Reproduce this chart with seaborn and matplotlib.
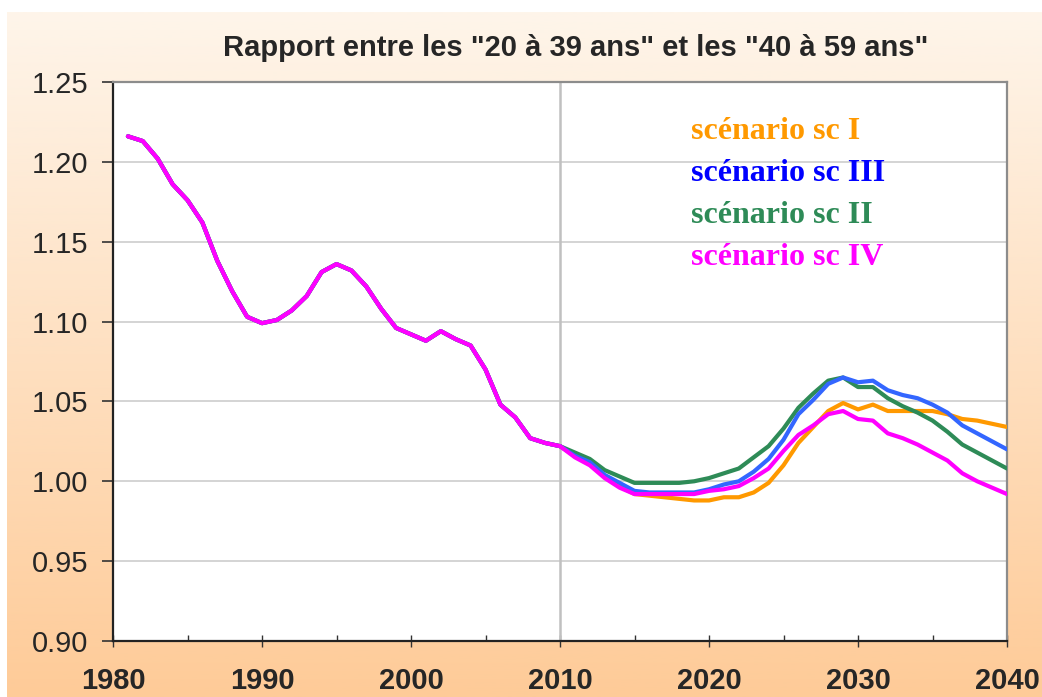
import numpy as np
import pandas as pd
import matplotlib
matplotlib.use("Agg")
import matplotlib.pyplot as plt
import seaborn as sns
from matplotlib.ticker import MultipleLocator

# ---------------- data ----------------
hist_years = list(range(1981, 2011))
hist_values = [1.216, 1.213, 1.202, 1.186, 1.176, 1.162, 1.138, 1.119, 1.103, 1.099,
               1.101, 1.107, 1.116, 1.131, 1.136, 1.132, 1.122, 1.108, 1.096, 1.092,
               1.088, 1.094, 1.089, 1.085, 1.070, 1.048, 1.040, 1.027, 1.024, 1.022]

proj_years = list(range(2011, 2041))
sc_I = [1.016, 1.011, 1.003, 0.997, 0.992, 0.991, 0.990, 0.989, 0.988, 0.988,
        0.990, 0.990, 0.993, 0.999, 1.010, 1.024, 1.034, 1.044, 1.049, 1.045,
        1.048, 1.044, 1.044, 1.044, 1.044, 1.042, 1.039, 1.038, 1.036, 1.034]
sc_II = [1.018, 1.014, 1.007, 1.003, 0.999, 0.999, 0.999, 0.999, 1.000, 1.002,
         1.005, 1.008, 1.015, 1.022, 1.033, 1.046, 1.055, 1.063, 1.065, 1.059,
         1.059, 1.052, 1.047, 1.043, 1.038, 1.031, 1.023, 1.018, 1.013, 1.008]
sc_III = [1.016, 1.012, 1.004, 0.999, 0.994, 0.993, 0.993, 0.993, 0.993, 0.995,
          0.998, 1.000, 1.006, 1.014, 1.026, 1.042, 1.051, 1.061, 1.065, 1.062,
          1.063, 1.057, 1.054, 1.052, 1.048, 1.043, 1.035, 1.030, 1.025, 1.020]
sc_IV = [1.015, 1.010, 1.002, 0.996, 0.992, 0.992, 0.992, 0.992, 0.992, 0.994,
         0.995, 0.997, 1.002, 1.008, 1.019, 1.029, 1.035, 1.042, 1.044, 1.039,
         1.038, 1.030, 1.027, 1.023, 1.018, 1.013, 1.005, 1.000, 0.996, 0.992]

series_names = ["scénario sc I", "scénario sc II", "scénario sc III", "scénario sc IV"]
series_values = [sc_I, sc_II, sc_III, sc_IV]
line_colors = ["#FF9900", "#2E8B57", "#3366FF", "#FF00FF"]
text_colors = ["#FF9900", "#2E8B57", "#0000FF", "#FF00FF"]
legend_order = ["scénario sc I", "scénario sc III", "scénario sc II", "scénario sc IV"]

title = 'Rapport entre les "20 à 39 ans" et les "40 à 59 ans"'
x_ticks = [1980, 1990, 2000, 2010, 2020, 2030, 2040]
y_ticks = [0.90, 0.95, 1.00, 1.05, 1.10, 1.15, 1.20, 1.25]

# ---------------- dataframe ----------------
rows = []
for name, vals in zip(series_names, series_values):
    for yr, v in zip(hist_years, hist_values):
        rows.append((yr, v, name))
    for yr, v in zip(proj_years, vals):
        rows.append((yr, v, name))
df = pd.DataFrame(rows, columns=["year", "ratio", "scenario"])

# ---------------- figure ----------------
sns.set_theme(style="white")
plt.rcParams["font.family"] = ["Liberation Sans", "DejaVu Sans"]

W, H = 1042, 697
fig = plt.figure(figsize=(W / 100, H / 100), dpi=100, facecolor="white")

# gradient background
bg = fig.add_axes([7 / W, 0, 1 - 7 / W, 1 - 12 / H], zorder=-10)
top_c = np.array([254, 245, 234]) / 255
bot_c = np.array([254, 203, 152]) / 255
t = np.linspace(0, 1, 256)[:, None]
grad = top_c[None, :] * (1 - t) + bot_c[None, :] * t
bg.imshow(grad[:, None, :], aspect="auto", extent=[0, 1, 0, 1])
bg.set_axis_off()

ax = fig.add_axes([113 / W, 1 - 641 / H, (1007 - 113) / W, (641 - 82) / H])
ax.set_facecolor("white")

ax.axvline(2010, color="#C0C0C0", lw=1.8, zorder=1)

sns.lineplot(data=df, x="year", y="ratio", hue="scenario", hue_order=series_names,
             palette=line_colors, linewidth=3.0, ax=ax, zorder=3, sort=True)

ax.set_xlim(1980, 2040)
ax.set_ylim(0.90, 1.25)
ax.set_xticks(x_ticks)
ax.set_xticklabels([str(v) for v in x_ticks], fontweight="bold", fontsize=21)
ax.xaxis.set_minor_locator(MultipleLocator(5))
ax.set_yticks(y_ticks)
ax.set_yticklabels([f"{v:.2f}" for v in y_ticks], fontsize=21)
ax.set_xlabel("")
ax.set_ylabel("")

ax.yaxis.grid(True, color="#D4D4D4", lw=1.4, zorder=0)
ax.xaxis.grid(False)
ax.set_axisbelow(True)

ax.tick_params(axis="y", which="major", direction="out", length=8, width=1.2,
               color="#333333", pad=10, left=True)
ax.tick_params(axis="x", which="major", direction="inout", length=9, width=1.0,
               color="#333333", pad=14, bottom=True)
ax.tick_params(axis="x", which="minor", direction="in", length=4, width=1.0,
               color="#333333", bottom=True)

for side in ["left", "bottom"]:
    ax.spines[side].set_color("#222222")
    ax.spines[side].set_linewidth(1.6)
for side in ["top", "right"]:
    ax.spines[side].set_color("#8C8C8C")
    ax.spines[side].set_linewidth(1.6)

# legend: coloured text only
handles, labels = ax.get_legend_handles_labels()
hmap = dict(zip(labels, handles))
leg = ax.legend([hmap[l] for l in legend_order], legend_order,
                loc="upper left", bbox_to_anchor=(0.614, 0.99), frameon=False,
                handlelength=0, handletextpad=0, labelspacing=0.40,
                prop={"family": ["Liberation Serif", "DejaVu Serif"], "weight": "bold", "size": 23})
for txt, lbl in zip(leg.get_texts(), legend_order):
    txt.set_color(text_colors[series_names.index(lbl)])
for h in leg.legend_handles:
    h.set_visible(False)

fig.text(576 / W, 1 - 48 / H, title, ha="center", va="center",
         fontsize=21, fontweight="bold")

fig.savefig("out.png", dpi=100, facecolor=fig.get_facecolor())
